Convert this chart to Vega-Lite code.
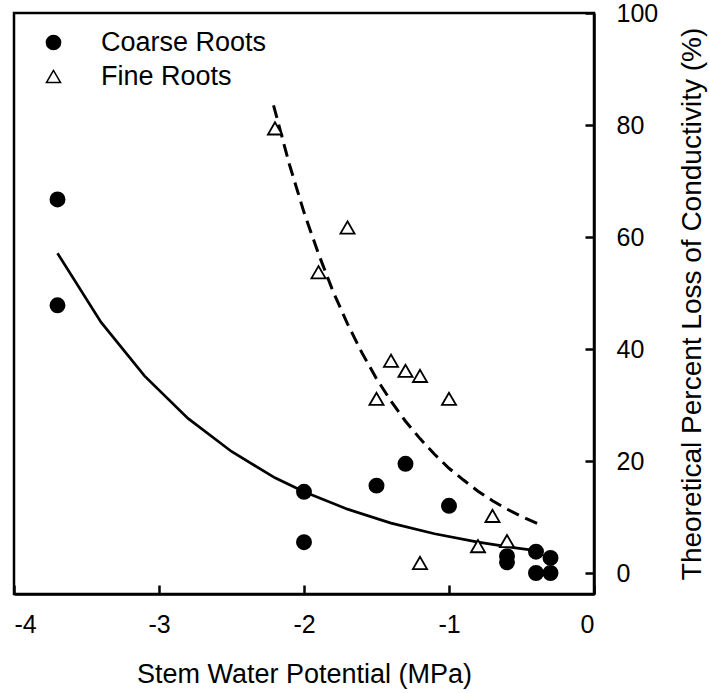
{
  "$schema": "https://vega.github.io/schema/vega-lite/v6.json",
  "autosize": "none",
  "padding": {"left": 14, "top": 13, "right": 115, "bottom": 99},
  "width": 580,
  "height": 581,
  "background": "white",
  "config": {
    "font": "Liberation Sans",
    "view": {"stroke": "black", "strokeWidth": 2.5}
  },
  "datasets": {
    "points": [
      {"x": -3.7, "y": 66.7, "series": "Coarse Roots"},
      {"x": -3.7, "y": 47.8, "series": "Coarse Roots"},
      {"x": -2.0, "y": 14.5, "series": "Coarse Roots"},
      {"x": -2.0, "y": 5.5, "series": "Coarse Roots"},
      {"x": -1.5, "y": 15.6, "series": "Coarse Roots"},
      {"x": -1.3, "y": 19.5, "series": "Coarse Roots"},
      {"x": -1.0, "y": 12.0, "series": "Coarse Roots"},
      {"x": -0.6, "y": 3.0, "series": "Coarse Roots"},
      {"x": -0.6, "y": 1.9, "series": "Coarse Roots"},
      {"x": -0.4, "y": 3.8, "series": "Coarse Roots"},
      {"x": -0.4, "y": 0.0, "series": "Coarse Roots"},
      {"x": -0.3, "y": 2.7, "series": "Coarse Roots"},
      {"x": -0.3, "y": 0.0, "series": "Coarse Roots"},
      {"x": -2.2, "y": 79.4, "series": "Fine Roots"},
      {"x": -1.7, "y": 61.7, "series": "Fine Roots"},
      {"x": -1.9, "y": 53.7, "series": "Fine Roots"},
      {"x": -1.4, "y": 37.9, "series": "Fine Roots"},
      {"x": -1.3, "y": 36.1, "series": "Fine Roots"},
      {"x": -1.2, "y": 35.2, "series": "Fine Roots"},
      {"x": -1.5, "y": 31.1, "series": "Fine Roots"},
      {"x": -1.0, "y": 31.1, "series": "Fine Roots"},
      {"x": -0.7, "y": 10.2, "series": "Fine Roots"},
      {"x": -0.8, "y": 4.8, "series": "Fine Roots"},
      {"x": -0.6, "y": 5.7, "series": "Fine Roots"},
      {"x": -1.2, "y": 1.8, "series": "Fine Roots"}
    ],
    "curves": [
      {"x": -3.7, "y": 57.1, "series": "Coarse Roots"},
      {"x": -3.4, "y": 44.8, "series": "Coarse Roots"},
      {"x": -3.1, "y": 35.2, "series": "Coarse Roots"},
      {"x": -2.8, "y": 27.6, "series": "Coarse Roots"},
      {"x": -2.5, "y": 21.7, "series": "Coarse Roots"},
      {"x": -2.2, "y": 17.0, "series": "Coarse Roots"},
      {"x": -2.0, "y": 14.5, "series": "Coarse Roots"},
      {"x": -1.7, "y": 11.4, "series": "Coarse Roots"},
      {"x": -1.4, "y": 8.9, "series": "Coarse Roots"},
      {"x": -1.1, "y": 7.0, "series": "Coarse Roots"},
      {"x": -0.8, "y": 5.5, "series": "Coarse Roots"},
      {"x": -0.6, "y": 4.7, "series": "Coarse Roots"},
      {"x": -0.4, "y": 4.0, "series": "Coarse Roots"},
      {"x": -2.21, "y": 83.5, "series": "Fine Roots"},
      {"x": -2.1, "y": 72.9, "series": "Fine Roots"},
      {"x": -2.0, "y": 64.4, "series": "Fine Roots"},
      {"x": -1.9, "y": 57.0, "series": "Fine Roots"},
      {"x": -1.8, "y": 50.3, "series": "Fine Roots"},
      {"x": -1.7, "y": 44.5, "series": "Fine Roots"},
      {"x": -1.6, "y": 39.3, "series": "Fine Roots"},
      {"x": -1.5, "y": 34.7, "series": "Fine Roots"},
      {"x": -1.4, "y": 30.7, "series": "Fine Roots"},
      {"x": -1.3, "y": 27.1, "series": "Fine Roots"},
      {"x": -1.2, "y": 24.0, "series": "Fine Roots"},
      {"x": -1.1, "y": 21.2, "series": "Fine Roots"},
      {"x": -1.0, "y": 18.7, "series": "Fine Roots"},
      {"x": -0.9, "y": 16.6, "series": "Fine Roots"},
      {"x": -0.8, "y": 14.6, "series": "Fine Roots"},
      {"x": -0.7, "y": 12.9, "series": "Fine Roots"},
      {"x": -0.6, "y": 11.4, "series": "Fine Roots"},
      {"x": -0.5, "y": 10.1, "series": "Fine Roots"},
      {"x": -0.35, "y": 8.4, "series": "Fine Roots"}
    ]
  },
  "encoding": {
    "x": {
      "field": "x", "type": "quantitative",
      "scale": {"domain": [-4, 0], "nice": false, "zero": false},
      "axis": {
        "title": "Stem Water Potential (MPa)",
        "values": [-4, -3, -2, -1, 0],
        "labelExpr": "toString(datum.value)",
        "grid": false,
        "domainColor": "black", "domainWidth": 2.5,
        "tickColor": "black", "tickWidth": 2.5, "tickSize": -9,
        "labelFontSize": 25, "labelColor": "black", "labelPadding": 27,
        "titleFontSize": 27, "titleFontWeight": "normal", "titleColor": "black", "titlePadding": 24
      }
    },
    "y": {
      "field": "y", "type": "quantitative",
      "scale": {"domain": [-3.75, 100], "nice": false, "zero": false},
      "axis": {
        "orient": "right",
        "title": "Theoretical Percent Loss of Conductivity (%)",
        "values": [0, 20, 40, 60, 80, 100],
        "grid": false,
        "domainColor": "black", "domainWidth": 2.5,
        "tickColor": "black", "tickWidth": 2.5, "tickSize": -9,
        "labelFontSize": 25, "labelColor": "black", "labelPadding": 31,
        "titleFontSize": 28, "titleFontWeight": "normal", "titleColor": "black",
        "titleAngle": 270, "titlePadding": 49
      }
    }
  },
  "layer": [
    {
      "data": {"name": "curves"},
      "transform": [{"filter": "datum.series === 'Coarse Roots'"}],
      "mark": {"type": "line", "color": "black", "strokeWidth": 2.7},
      "encoding": {}
    },
    {
      "data": {"name": "curves"},
      "transform": [{"filter": "datum.series === 'Fine Roots'"}],
      "mark": {"type": "line", "color": "black", "strokeWidth": 3, "strokeDash": [13, 7]},
      "encoding": {}
    },
    {
      "data": {"name": "points"},
      "mark": {"type": "point", "stroke": "black", "strokeWidth": 1.8, "opacity": 1, "size": 200},
      "encoding": {
        "shape": {
          "field": "series", "type": "nominal",
          "scale": {"domain": ["Coarse Roots", "Fine Roots"], "range": ["circle", "triangle-up"]},
          "legend": {
            "title": null, "orient": "none", "legendX": 26, "legendY": 16, "padding": 0,
            "labelFontSize": 27, "labelColor": "black", "labelOffset": 34, "labelLimit": 0,
            "rowPadding": 6, "symbolSize": 200,
            "encode": {"symbols": {"update": {"stroke": {"value": "black"}, "strokeWidth": {"value": 1.8}, "opacity": {"value": 1}}}}
          }
        },
        "fill": {
          "field": "series", "type": "nominal",
          "scale": {"domain": ["Coarse Roots", "Fine Roots"], "range": ["black", "white"]},
          "legend": {
            "title": null, "orient": "none", "legendX": 26, "legendY": 16, "padding": 0,
            "labelFontSize": 27, "labelColor": "black", "labelOffset": 34, "labelLimit": 0,
            "rowPadding": 6, "symbolSize": 200,
            "encode": {"symbols": {"update": {"stroke": {"value": "black"}, "strokeWidth": {"value": 1.8}, "opacity": {"value": 1}}}}
          }
        }
      }
    }
  ]
}
